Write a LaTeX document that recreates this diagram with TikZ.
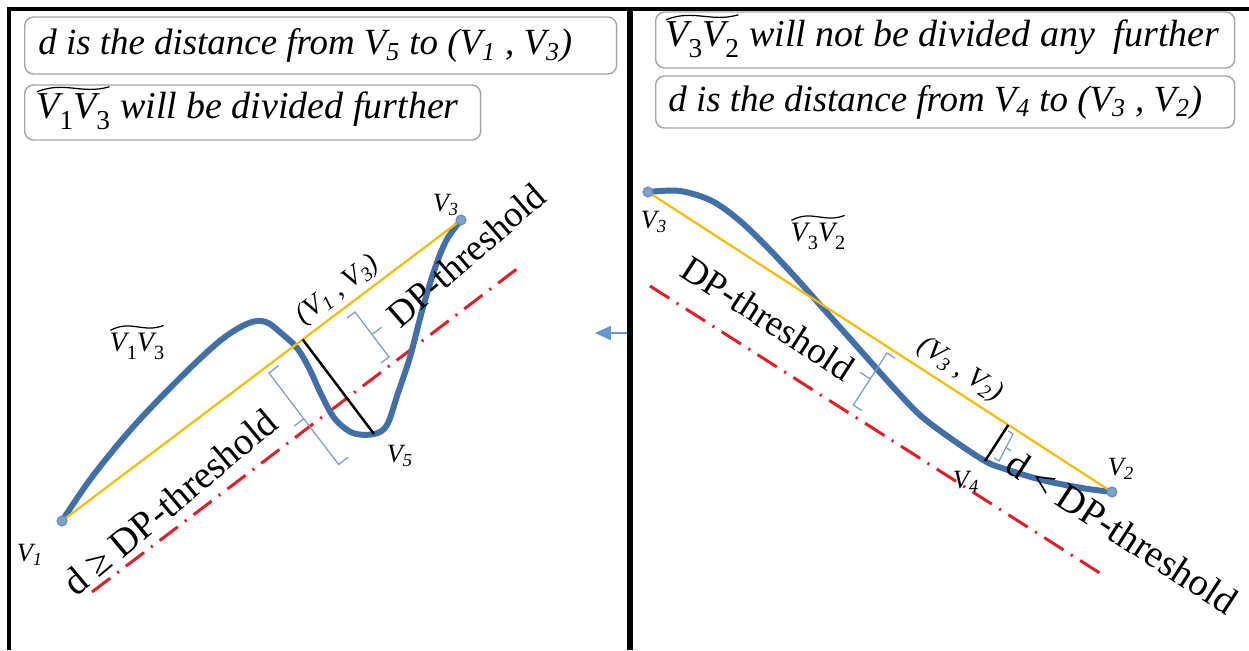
\documentclass[tikz,border=0pt]{standalone}
\usepackage{fontspec}
\setmainfont{Liberation Serif}
\usetikzlibrary{calc,arrows.meta}
\definecolor{curveblue}{RGB}{66,112,166}
\definecolor{dotblue}{RGB}{125,160,205}
\definecolor{lineyellow}{RGB}{242,192,10}
\definecolor{dashred}{RGB}{226,30,40}
\definecolor{brk}{RGB}{125,155,195}
\definecolor{boxgray}{RGB}{165,165,165}
\definecolor{arrblue}{RGB}{100,150,210}
\newcommand{\vsub}[1]{V\textsubscript{#1}}
\newcommand{\tsub}[1]{\raisebox{-0.28em}{\scalebox{0.72}{\upshape #1}}}
\newcommand{\tildeon}[1]{%
  \draw[tildeline] ($(#1.north west)+(1,-2)$)
    .. controls ($(#1.north west)!0.38!(#1.north east)+(0,-13)$) and ($(#1.north west)!0.62!(#1.north east)+(0,1)$)
    .. ($(#1.north east)+(-1,-7)$);}
\begin{document}
\begin{tikzpicture}[x=0.02cm,y=-0.02cm,
  curve/.style={draw=curveblue, line width=3.4pt, line cap=round, line join=round},
  chord/.style={draw=lineyellow, line width=1.3pt},
  thr/.style={draw=dashred, line width=1.7pt, dash pattern=on 13pt off 5pt on 1.2pt off 5pt},
  perp/.style={draw=black, line width=1.4pt},
  brace/.style={draw=brk, line width=0.7pt},
  tildeline/.style={draw=black, line width=0.7pt},
  vdot/.style={circle, draw=curveblue!80, fill=dotblue, line width=0.6pt, minimum size=0.2cm, inner sep=0pt},
  vlab/.style={font=\fontsize{15}{18}\selectfont\itshape, inner sep=0pt},
  seglab/.style={font=\fontsize{16}{19}\selectfont\itshape, inner sep=0pt},
  big/.style={font=\fontsize{22}{26}\selectfont, inner sep=0pt},
  boxframe/.style={draw=boxgray, line width=0.8pt, rounded corners=5pt, anchor=west, inner sep=0pt},
  boxtext/.style={font=\fontsize{21}{25}\selectfont\itshape, inner sep=0pt, anchor=west},
  boxtextb/.style={font=\fontsize{21.6}{26}\selectfont\itshape, inner sep=0pt, anchor=west},
  frame/.style={draw=black, line width=2.4pt}]
\useasboundingbox (0,0) rectangle (1249,650);
\fill[white] (0,0) rectangle (1249,650);

% ---------- boxes ----------
\node[boxframe, minimum width=11.84cm, minimum height=1.14cm] (boxL1) at (24,45.5) {};
\node[boxtext] (tL1) at (38,45.5) {d is the distance from \vsub{5} to (\vsub{1} , \vsub{3})};
\node[boxframe, minimum width=9.12cm, minimum height=1.1cm] (boxL2) at (24,112.5) {};
\node[boxtextb] (tL2a) at (36,112) {V\tsub{1}V\tsub{3}};
\node[boxtextb, anchor=base west] (tL2b) at (tL2a.base east) {\ will be divided further};
\tildeon{tL2a}
\node[boxframe, minimum width=11.58cm, minimum height=1.12cm] (boxR1) at (655,40) {};
\node[boxtextb] (tR1a) at (665,40) {V\tsub{3}V\tsub{2}};
\node[boxtextb, anchor=base west] (tR1b) at (tR1a.base east) {\ will not be divided any\ \ further};
\tildeon{tR1a}
\node[boxframe, minimum width=11.58cm, minimum height=1.04cm] (boxR2) at (655,102) {};
\node[boxtext] (tR2) at (668,102) {d is the distance from \vsub{4} to (\vsub{3} , \vsub{2})};

% ---------- left panel ----------
\coordinate (V1L) at (62,521);
\coordinate (V3L) at (461,220);
\coordinate (V5) at (374,434);
\coordinate (F5) at ($(V1L)!(V5)!(V3L)$);
\coordinate (RL1) at (92,592);
\coordinate (RL2) at (522,265);
\draw[thr] (RL1) -- (RL2);
\draw[curve] plot[smooth,tension=0.55] coordinates {(V1L) (92,477) (133,427) (181,377) (221,340) (249,323) (266,322) (281,333) (297,348) (309,368) (321,394) (335,419) (353,433) (V5) (387,425) (398,393) (410,357) (422,311) (434,271) (446,241) (V3L)};
\draw[chord] (V1L) -- (V3L);
\draw[perp] (F5) -- (V5);
\node[vdot] (dV1L) at (V1L) {};
\node[vdot] (dV3L) at (V3L) {};

\coordinate (b1a) at (355,312);
\coordinate (b1b) at (389,357);
\coordinate (b1m) at (372,334.5);
\draw[brace] ($(b1a)+(-8,6)$) -- (b1a) -- (b1b) -- ($(b1b)+(-8,6)$);
\draw[brace] (b1m) -- ++(9.6,-7.3);
\coordinate (b2a) at (269,373);
\coordinate (b2b) at (338.6,464.5);
\coordinate (b2m) at (303.8,418.8);
\draw[brace] ($(b2a)+(9.6,-7.3)$) -- (b2a) -- (b2b) -- ($(b2b)+(9.6,-7.3)$);
\draw[brace] (b2m) -- ++(-9.6,7.3);

\node[vlab] (lV1) at (30,555) {\vsub{1}};
\node[vlab] (lV3L) at (446,205) {\vsub{3}};
\node[vlab] (lV5) at (400,456) {\vsub{5}};
\node[seglab] (lV1V3) at (137,346) {V\tsub{1}V\tsub{3}};
\tildeon{lV1V3}
\node[seglab, rotate=37] (lseg13) at (338,290) {(\vsub{1} , \vsub{3})};
\node[big, rotate=41, font=\fontsize{21}{25}\selectfont] (lthr) at (466,255) {DP-threshold};
\node[big, rotate=40] (ldge) at (170,502) {d ≥ DP-threshold};

% ---------- right panel ----------
\coordinate (V3R) at (648,192);
\coordinate (V2R) at (1112,492);
\coordinate (V4) at (985,461);
\coordinate (F4) at ($(V3R)!(V4)!(V2R)$);
\coordinate (RR1) at (650,286);
\coordinate (RR2) at (1106,577);
\draw[thr] (RR1) -- (RR2);
\draw[curve] plot[smooth,tension=0.55] coordinates {(V3R) (680,191) (712,201) (740,221) (769,249) (797,279) (821,306) (845,333) (869,360) (893,387) (921,416) (953,440) (V4) (1002,468) (1042,480) (1082,488) (V2R)};
\draw[chord] (V3R) -- (V2R);
\draw[perp] (F4) -- (V4);
\node[vdot] (dV3R) at (V3R) {};
\node[vdot] (dV2R) at (V2R) {};

\coordinate (bAa) at (887,353);
\coordinate (bAb) at (853.3,405.1);
\coordinate (bAm) at (870.2,379);
\draw[brace] ($(bAa)+(8.4,5.4)$) -- (bAa) -- (bAb) -- ($(bAb)+(8.4,5.4)$);
\draw[brace] (bAm) -- ++(-10,-6.5);
\coordinate (bBa) at (1013,434);
\coordinate (bBb) at (999,461);
\coordinate (bBm) at (1006,447.5);
\draw[brace] ($(bBa)+(-5,-3.3)$) -- (bBa) -- (bBb) -- ($(bBb)+(-5,-3.3)$);
\draw[brace] (bBm) -- ++(5,3.3);

\node[vlab] (lV3R) at (654,222) {\vsub{3}};
\node[vlab] (lV2) at (1121,469) {\vsub{2}};
\node[vlab] (lV4) at (966,482) {\vsub{4}};
\node[seglab] (lV3V2) at (818,236) {V\tsub{3}V\tsub{2}};
\tildeon{lV3V2}
\node[seglab, rotate=-33] (lseg32) at (960,370) {(\vsub{3} , \vsub{2})};
\node[big, rotate=-33, font=\fontsize{21}{25}\selectfont] (rthr) at (768,318) {DP-threshold};
\node[big, rotate=-33] (rdlt) at (1122,532) {d < DP-threshold};

% ---------- middle arrow ----------
\coordinate (arS) at (627,333);
\coordinate (arE) at (595,333);
\draw[draw=arrblue, line width=0.8pt, -{Triangle[length=9pt,width=8pt]}] (arS) -- (arE);

% ---------- frame ----------
\coordinate (fTL) at (9,9);
\coordinate (fTR) at (1249,9);
\coordinate (fBL) at (9,650);
\coordinate (fMT) at (630,9);
\coordinate (fMB) at (630,650);
\draw[frame] (fBL) -- (fTL) -- (fTR);
\draw[frame, line width=3pt] (fMT) -- (fMB);
\end{tikzpicture}
\end{document}
